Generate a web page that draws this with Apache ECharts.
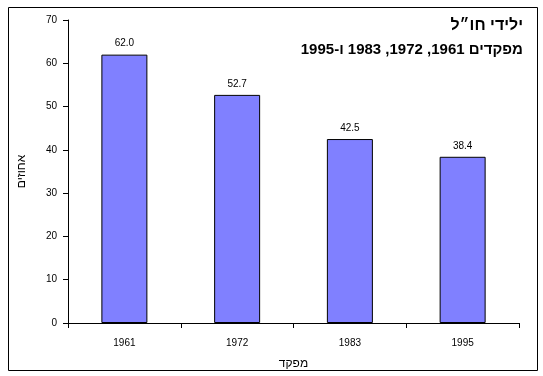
<!DOCTYPE html>
<html>
<head>
<meta charset="utf-8">
<script src="https://cdn.jsdelivr.net/npm/echarts@6/dist/echarts.min.js"></script>
<style>
html,body{margin:0;padding:0;background:#fff;}
#c{width:543px;height:376px;}
</style>
</head>
<body>
<div id="c"></div>
<script>
const categories = ['1961', '1972', '1983', '1995'];
const values = [62.0, 52.7, 42.5, 38.4];
const yTicks = [0, 10, 20, 30, 40, 50, 60, 70];
const titleLine1 = 'ילידי חו״ל';
const titleLine2 = 'מפקדים 1961, 1972, 1983 ו-1995';
const yName = 'אחוזים';
const xName = 'מפקד';

const chart = echarts.init(document.getElementById('c'), null, {renderer: 'canvas'});
const font = 'Liberation Sans';
chart.setOption({
  animation: false,
  backgroundColor: '#fff',
  graphic: [{
    type: 'rect',
    shape: {x: 8.5, y: 7.5, width: 529, height: 363},
    style: {fill: 'none', stroke: '#000', lineWidth: 1},
    silent: true
  }],
  title: [{
    text: titleLine1,
    right: 15, top: 13,
    textStyle: {fontFamily: font, fontWeight: 'bold', fontSize: 16, color: '#000'}
  }, {
    text: titleLine2,
    right: 15, top: 37,
    textStyle: {fontFamily: font, fontWeight: 'bold', fontSize: 15, color: '#000'}
  }],
  grid: {left: 68, right: 24, top: 20, bottom: 53, containLabel: false},
  xAxis: {
    type: 'category',
    data: categories,
    name: xName,
    nameLocation: 'middle',
    nameGap: 35,
    nameTextStyle: {fontFamily: font, fontSize: 12, color: '#000'},
    axisLine: {lineStyle: {color: '#000', width: 1}},
    axisTick: {show: true, length: 5, lineStyle: {color: '#000'}},
    axisLabel: {fontFamily: font, fontSize: 10, color: '#000', margin: 15},
    splitLine: {show: false}
  },
  yAxis: {
    type: 'value',
    min: yTicks[0],
    max: yTicks[yTicks.length - 1],
    interval: 10,
    name: yName,
    nameLocation: 'middle',
    nameGap: 40,
    nameTextStyle: {fontFamily: font, fontSize: 12, color: '#000'},
    axisLine: {show: true, lineStyle: {color: '#000', width: 1}},
    axisTick: {show: true, length: 5, lineStyle: {color: '#000'}},
    axisLabel: {fontFamily: font, fontSize: 10, color: '#000', margin: 11},
    splitLine: {show: false}
  },
  series: [{
    type: 'bar',
    data: values,
    barWidth: 46,
    itemStyle: {color: '#8080FF', borderColor: '#000', borderWidth: 1},
    label: {
      show: true,
      position: 'top',
      distance: 6,
      formatter: p => p.value.toFixed(1),
      fontFamily: font, fontSize: 10, color: '#000'
    }
  }]
});
</script>
</body>
</html>
